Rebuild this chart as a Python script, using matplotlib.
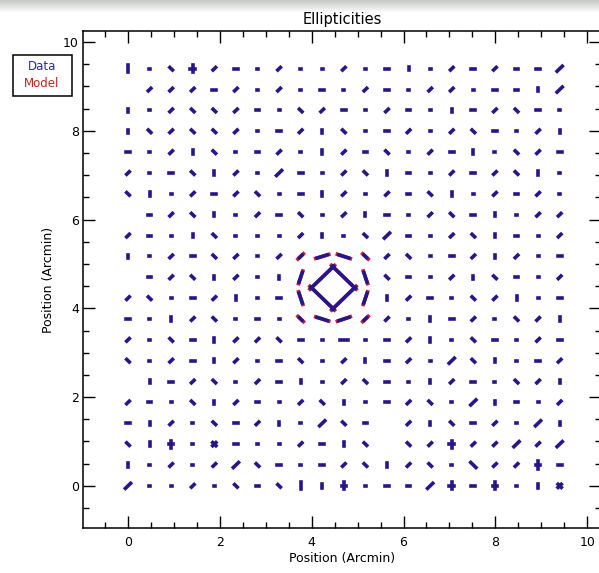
import numpy as np
import matplotlib
matplotlib.use("Agg")
import matplotlib.pyplot as plt
from matplotlib.collections import LineCollection
from matplotlib.colors import LinearSegmentedColormap
from matplotlib.patches import Rectangle
from matplotlib.ticker import MultipleLocator

# grid spacing of the shear map (arcmin)
STEP = 0.47

# data whiskers, one string per row, top row (y = 9.4) first, 21 columns each
# o dot | h d v b short stick (-, /, |, \) | H D V B long stick
# e a k f long sticks at 18, 72, 108, 162 deg (ring round the centre)
# p plus, x cross, N / M the long tangential sticks next to the centre
DATA_ROWS = [
    "VobpdhodoodohvodhdhhD",
    "odddhdodohodhoddohhvD",
    "vodbbdhobdhodhovhdbho",
    "vbdbbdohdvbohdodbhodv",
    "hodvbohdovdhbodhvobdh",
    "dohbvdoDhodbvhodhdbvo",
    "bvodhdbohvdodhbvodhdo",
    "ohdbvodhbodvhodbhvodd",
    "dhovbooodvobDhodbvhod",
    "vodhbdoddefbdbohdvdoh",
    "ohdbvdovaNMkbhodvbhod",
    "dbohdvohkMNavdhobdvoh",
    "hovdbohobfeddovhdobdv",
    "dobhvddbhoHohdvobhodh",
    "bodhvdohbodvhdoDbvohd",
    "ovhdbodhvodbhovdhobdv",
    "dhobvdhodbvohdboDvhod",
    "hvdobhdvoDbhodvbhdoDv",
    "bvpoxhoodhvbobdpddDdD",
    "vododDbhohdbvdboBddph",
    "DoodobhbVvpohhDphpovx",
]

# model whiskers that show from under the data (column, row, angle deg, length)
MODEL_COL = [9, 10, 9, 10, 8, 8, 11, 11, 9, 10, 9, 10, 8, 11, 8, 11]
MODEL_ROW = [10, 10, 9, 9, 9, 10, 9, 10, 8, 8, 11, 11, 8, 8, 11, 11]
MODEL_ANG = [45, -45, -45, 45, 108, 72, 72, 108, 162, 20, 17, 161, 135, 45, 45, 135]
MODEL_LEN = [0.76, 0.76, 0.76, 0.76, 0.30, 0.30, 0.30, 0.30,
             0.30, 0.30, 0.30, 0.30, 0.17, 0.17, 0.17, 0.17]

STICK = {
    "o": [(0, 0.02)],
    "h": [(0, 0.08)], "d": [(45, 0.08)], "v": [(90, 0.08)], "b": [(135, 0.08)],
    "H": [(0, 0.16)], "D": [(45, 0.16)], "V": [(90, 0.16)], "B": [(135, 0.16)],
    "e": [(18, 0.23)], "a": [(72, 0.23)], "k": [(108, 0.23)], "f": [(162, 0.23)],
    "p": [(0, 0.1), (90, 0.16)], "x": [(45, 0.1), (135, 0.1)],
    "N": [(45, 0.70)], "M": [(135, 0.70)],
}

DATA_C = "#24168c"
MODEL_C = "#d41e2a"


def segments(cols, rows, angs, lens):
    segs = []
    for c, r, a, l in zip(cols, rows, angs, lens):
        x0, y0 = c * STEP, r * STEP
        dx = 0.5 * l * np.cos(np.radians(a))
        dy = 0.5 * l * np.sin(np.radians(a))
        segs.append([(x0 - dx, y0 - dy), (x0 + dx, y0 + dy)])
    return segs


fig = plt.figure(figsize=(5.99, 5.73), dpi=100)
fig.patch.set_facecolor("white")

# grey band along the top of the screenshot
band = fig.add_axes([0, 1 - 13 / 573, 1, 13 / 573])
band.imshow(np.linspace(0, 1, 20)[:, None],
            cmap=LinearSegmentedColormap.from_list("band", ["#c5cac3", "#ffffff"]),
            aspect="auto", extent=[0, 1, 0, 1])
band.axis("off")

ax = fig.add_axes([83 / 599, 45 / 573, (601 - 83) / 599, (528 - 31) / 573])
ax.set_xlim(-0.98, 10.3)
ax.set_ylim(-0.95, 10.25)

dc, dr, da, dl = [], [], [], []
for i, row in enumerate(DATA_ROWS):
    r = len(DATA_ROWS) - 1 - i
    for c, ch in enumerate(row):
        for a, l in STICK[ch]:
            dc.append(c); dr.append(r); da.append(a); dl.append(l)

ax.add_collection(LineCollection(segments(MODEL_COL, MODEL_ROW, MODEL_ANG, MODEL_LEN),
                                 colors=MODEL_C, linewidths=2.6, capstyle="projecting"))
ax.add_collection(LineCollection(segments(dc, dr, da, dl),
                                 colors=DATA_C, linewidths=2.6, capstyle="projecting"))

ax.xaxis.set_major_locator(MultipleLocator(2))
ax.xaxis.set_minor_locator(MultipleLocator(0.5))
ax.yaxis.set_major_locator(MultipleLocator(2))
ax.yaxis.set_minor_locator(MultipleLocator(0.5))
ax.tick_params(which="both", direction="in", top=True, right=True, width=1.0, colors="black")
ax.tick_params(which="major", length=8.5)
ax.tick_params(which="minor", length=4.3)
ax.tick_params(axis="x", pad=6, labelsize=9)
ax.tick_params(axis="y", pad=3, labelsize=9)
for s in ax.spines.values():
    s.set_linewidth(1.1)

ax.set_title("Ellipticities", fontsize=10.5, pad=5)
ax.set_xlabel("Position (Arcmin)", fontsize=9, labelpad=2)
ax.set_ylabel("Position (Arcmin)", fontsize=9, labelpad=6)

# legend box outside the axes
fig.add_artist(Rectangle((13 / 599, 1 - 96 / 573), 59 / 599, 41 / 573,
                         transform=fig.transFigure, fill=False, ec="black", lw=1.1))
fig.text(42 / 599, 1 - 67 / 573, "Data", color="#2a2a9a", fontsize=8.5, ha="center", va="center")
fig.text(42 / 599, 1 - 84 / 573, "Model", color="#c42020", fontsize=8.5, ha="center", va="center")

fig.savefig("out.png", dpi=100, facecolor="white")
